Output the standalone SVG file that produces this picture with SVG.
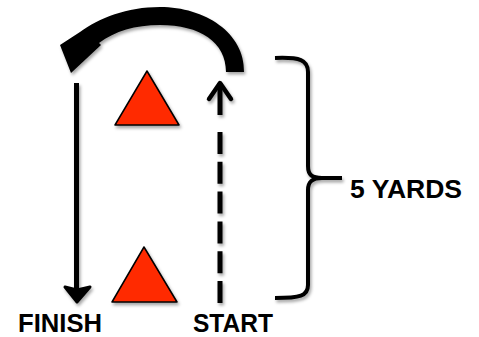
<svg xmlns="http://www.w3.org/2000/svg" width="479" height="337" viewBox="0 0 479 337">
<defs>
<filter id="sh" x="-20%" y="-20%" width="140%" height="140%">
<feDropShadow dx="1.5" dy="2.5" stdDeviation="1.5" flood-color="#000" flood-opacity="0.35"/>
</filter>
</defs>
<style>
.lbl{font-family:"Liberation Sans",Arial,sans-serif;font-weight:bold;font-size:25px;fill:#000}
.cone{fill:#FF2A00;stroke:#000;stroke-width:1.5;stroke-linejoin:round}
</style>
<rect width="479" height="337" fill="#fff"/>
<g id="cone-top" filter="url(#sh)"><polygon class="cone" points="147,71 115,125 179,125"/></g>
<g id="cone-bottom" filter="url(#sh)"><polygon class="cone" points="144,247 112,302 177,302"/></g>
<g id="connectors" filter="url(#sh)">
<path d="M244,72 C245,33 205,7 160,7 C127,7 99,18 80,32 L60,45 L71,73 L101,45 L99,43 C115,31 135,25 160,25 C200,25 226,42 226,72 Z" fill="#000"/>
<line x1="76.5" y1="83" x2="76.5" y2="292" stroke="#000" stroke-width="5"/>
<polygon points="65,287 77,302 90,287 77,290" fill="#000" stroke="#000" stroke-width="3" stroke-linejoin="round"/>
<line x1="220" y1="303" x2="220" y2="132" stroke="#000" stroke-width="5" stroke-dasharray="22 7.8"/>
<line x1="220" y1="115" x2="220" y2="83" stroke="#000" stroke-width="5"/>
<polyline points="209,99 220,83 231,99" fill="none" stroke="#000" stroke-width="4.5" stroke-linecap="round" stroke-linejoin="round"/>
<path d="M275,58 C300,57 308,60 308,72 L308,166 C308,175 312,178 322,178 L342,178 M322,178 C312,178 308,182 308,190 L308,285 C308,296 300,298 275,298" fill="none" stroke="#000" stroke-width="4"/>
</g>
<g id="labels">
<text class="lbl" x="18" y="332" textLength="84" lengthAdjust="spacingAndGlyphs">FINISH</text>
<text class="lbl" x="193" y="332" textLength="80" lengthAdjust="spacingAndGlyphs">START</text>
<text class="lbl" x="350" y="198" textLength="112" lengthAdjust="spacingAndGlyphs">5 YARDS</text>
</g>
</svg>
